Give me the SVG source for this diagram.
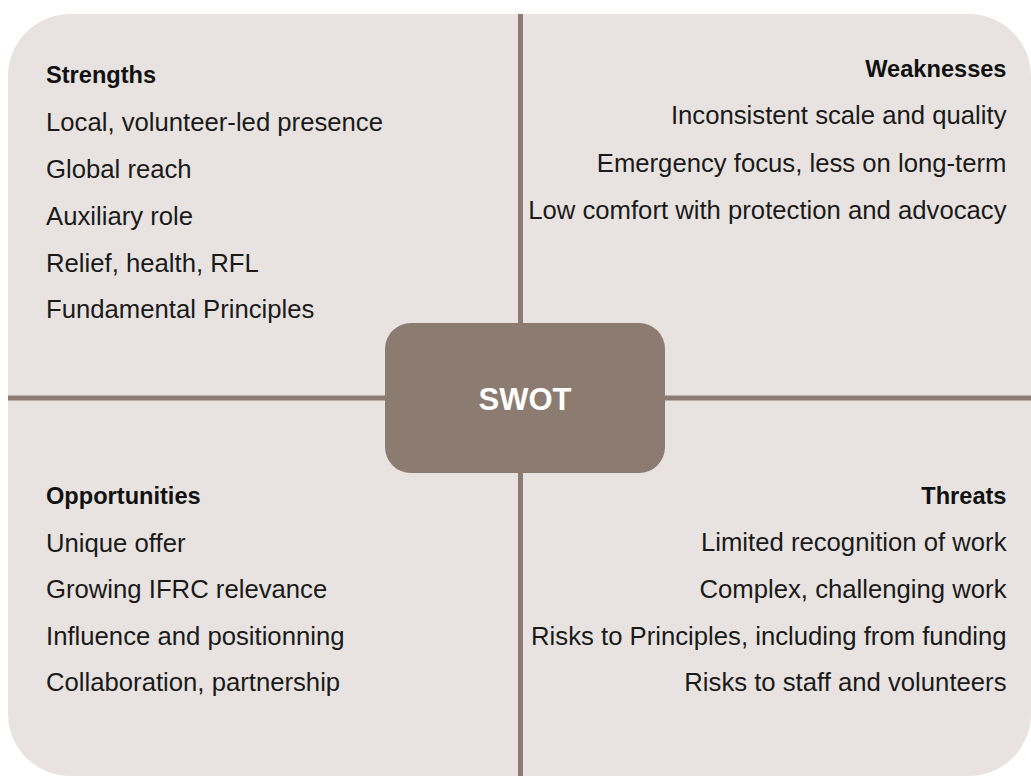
<svg xmlns="http://www.w3.org/2000/svg" width="1031" height="776" viewBox="0 0 1031 776">
  <style>
    .bg { fill: #e8e3e0; }
    .axis { stroke: #8c7b71; stroke-width: 5; fill: none; }
    .hub { fill: #8c7b71; }
    .head { font-family: "Liberation Sans", Arial, sans-serif; font-weight: bold; font-size: 23.6px; fill: #111111; }
    .item { font-family: "Liberation Sans", Arial, sans-serif; font-size: 25.7px; fill: #1a1a1a; }
    .end { text-anchor: end; }
    .hubtext { font-family: "Liberation Sans", Arial, sans-serif; font-weight: bold; font-size: 31px; fill: #ffffff; text-anchor: middle; }
  </style>
  <rect width="1031" height="776" fill="#ffffff"/>
  <rect id="background" class="bg" x="8" y="14" width="1023" height="762" rx="62" ry="62"/>
  <g id="connectors">
    <line class="axis" x1="8" y1="398" x2="1031" y2="398"/>
    <line class="axis" x1="520.5" y1="14" x2="520.5" y2="776"/>
  </g>
  <g id="strengths">
    <text class="head" x="46" y="83">Strengths</text>
    <text class="item" x="46" y="131">Local, volunteer-led presence</text>
    <text class="item" x="46" y="177.5">Global reach</text>
    <text class="item" x="46" y="224.5">Auxiliary role</text>
    <text class="item" x="46" y="271.5">Relief, health, RFL</text>
    <text class="item" x="46" y="318">Fundamental Principles</text>
  </g>
  <g id="weaknesses">
    <text class="head end" x="1006.5" y="77">Weaknesses</text>
    <text class="item end" x="1006.5" y="124">Inconsistent scale and quality</text>
    <text class="item end" x="1006.5" y="171.5">Emergency focus, less on long-term</text>
    <text class="item end" x="1006.5" y="218.5">Low comfort with protection and advocacy</text>
  </g>
  <g id="opportunities">
    <text class="head" x="46" y="504">Opportunities</text>
    <text class="item" x="46" y="551.5">Unique offer</text>
    <text class="item" x="46" y="598">Growing IFRC relevance</text>
    <text class="item" x="46" y="644.5">Influence and positionning</text>
    <text class="item" x="46" y="691">Collaboration, partnership</text>
  </g>
  <g id="threats">
    <text class="head end" x="1006.5" y="504">Threats</text>
    <text class="item end" x="1006.5" y="551">Limited recognition of work</text>
    <text class="item end" x="1006.5" y="598">Complex, challenging work</text>
    <text class="item end" x="1006.5" y="644.5">Risks to Principles, including from funding</text>
    <text class="item end" x="1006.5" y="691">Risks to staff and volunteers</text>
  </g>
  <g id="swot">
    <rect class="hub" x="385" y="323" width="280" height="150" rx="26" ry="26"/>
    <text class="hubtext" x="525" y="410">SWOT</text>
  </g>
</svg>
